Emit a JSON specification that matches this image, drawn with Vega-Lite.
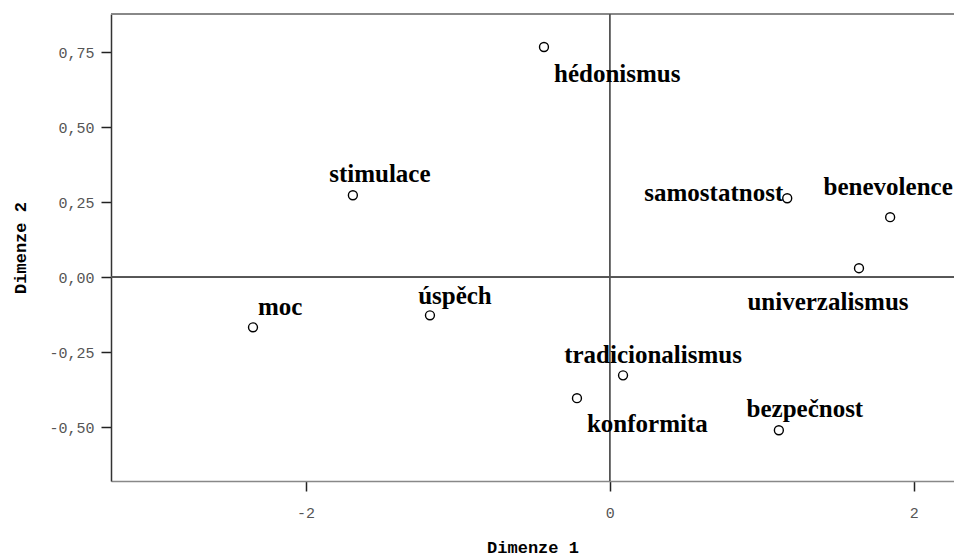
{
  "$schema": "https://vega.github.io/schema/vega-lite/v6.json",
  "width": 843,
  "height": 467,
  "autosize": {"type": "none"},
  "padding": {"left": 111, "top": 14, "right": 0, "bottom": 75},
  "background": "white",
  "config": {
    "view": {"stroke": null},
    "axis": {
      "grid": false,
      "labelFont": "Liberation Mono",
      "labelFontSize": 15,
      "labelColor": "#555555",
      "titleFont": "Liberation Mono",
      "titleFontSize": 17,
      "titleFontWeight": "bold",
      "titleColor": "black",
      "domainColor": "#333333",
      "domainWidth": 1.5,
      "tickColor": "#222222",
      "tickWidth": 1.5,
      "tickSize": 10
    }
  },
  "data": {
    "values": [
      {"name": "hédonismus", "d1": -0.432, "d2": 0.767},
      {"name": "stimulace", "d1": -1.689, "d2": 0.273},
      {"name": "samostatnost", "d1": 1.168, "d2": 0.263},
      {"name": "benevolence", "d1": 1.845, "d2": 0.2},
      {"name": "univerzalismus", "d1": 1.64, "d2": 0.03},
      {"name": "moc", "d1": -2.346, "d2": -0.167},
      {"name": "úspěch", "d1": -1.182, "d2": -0.127},
      {"name": "tradicionalismus", "d1": 0.088, "d2": -0.327},
      {"name": "konformita", "d1": -0.215, "d2": -0.403},
      {"name": "bezpečnost", "d1": 1.113, "d2": -0.51}
    ]
  },
  "encoding": {
    "x": {
      "field": "d1", "type": "quantitative",
      "scale": {"domain": [-3.28, 2.265], "nice": false, "zero": false},
      "axis": {"title": "Dimenze 1", "values": [-2, 0, 2], "labelPadding": 14, "titlePadding": 19, "domainColor": "#888888",
        "labelExpr": "replace(format(datum.value, 'd'), '\u2212', '-')"}
    },
    "y": {
      "field": "d2", "type": "quantitative",
      "scale": {"domain": [-0.679, 0.877], "nice": false, "zero": false},
      "axis": {"title": "Dimenze 2", "values": [-0.5, -0.25, 0, 0.25, 0.5, 0.75], "labelPadding": 7, "titlePadding": 19,
        "labelExpr": "replace(replace(format(datum.value, '.2f'), '.', ','), '\u2212', '-')"}
    }
  },
  "layer": [
    {"mark": {"type": "rule", "color": "#888888", "strokeWidth": 1.5}, "encoding": {"y": {"datum": 0.877}, "x": null}},
    {"mark": {"type": "rule", "color": "#555555", "strokeWidth": 1}, "encoding": {"x": {"datum": 0}, "y": null}},
    {"mark": {"type": "rule", "color": "#555555", "strokeWidth": 1}, "encoding": {"y": {"datum": 0}, "x": null}},
    {"mark": {"type": "point", "shape": "circle", "filled": false, "color": "black", "size": 80, "strokeWidth": 1.4, "opacity": 1}},
    {"transform": [{"filter": "datum.name == 'hédonismus'"}], "mark": {"type": "text", "font": "Liberation Serif", "fontWeight": "bold", "fontSize": 25, "align": "left", "baseline": "middle", "dx": 10, "dy": 27}, "encoding": {"text": {"field": "name"}}},
    {"transform": [{"filter": "datum.name == 'stimulace'"}], "mark": {"type": "text", "font": "Liberation Serif", "fontWeight": "bold", "fontSize": 25, "align": "center", "baseline": "middle", "dx": 27, "dy": -21}, "encoding": {"text": {"field": "name"}}},
    {"transform": [{"filter": "datum.name == 'samostatnost'"}], "mark": {"type": "text", "font": "Liberation Serif", "fontWeight": "bold", "fontSize": 25, "align": "right", "baseline": "middle", "dx": -4, "dy": -5}, "encoding": {"text": {"field": "name"}}},
    {"transform": [{"filter": "datum.name == 'benevolence'"}], "mark": {"type": "text", "font": "Liberation Serif", "fontWeight": "bold", "fontSize": 25, "align": "center", "baseline": "middle", "dx": -2, "dy": -30}, "encoding": {"text": {"field": "name"}}},
    {"transform": [{"filter": "datum.name == 'univerzalismus'"}], "mark": {"type": "text", "font": "Liberation Serif", "fontWeight": "bold", "fontSize": 25, "align": "center", "baseline": "middle", "dx": -31, "dy": 34}, "encoding": {"text": {"field": "name"}}},
    {"transform": [{"filter": "datum.name == 'moc'"}], "mark": {"type": "text", "font": "Liberation Serif", "fontWeight": "bold", "fontSize": 25, "align": "left", "baseline": "middle", "dx": 5, "dy": -20}, "encoding": {"text": {"field": "name"}}},
    {"transform": [{"filter": "datum.name == 'úspěch'"}], "mark": {"type": "text", "font": "Liberation Serif", "fontWeight": "bold", "fontSize": 25, "align": "center", "baseline": "middle", "dx": 25, "dy": -19}, "encoding": {"text": {"field": "name"}}},
    {"transform": [{"filter": "datum.name == 'tradicionalismus'"}], "mark": {"type": "text", "font": "Liberation Serif", "fontWeight": "bold", "fontSize": 25, "align": "center", "baseline": "middle", "dx": 30, "dy": -20}, "encoding": {"text": {"field": "name"}}},
    {"transform": [{"filter": "datum.name == 'konformita'"}], "mark": {"type": "text", "font": "Liberation Serif", "fontWeight": "bold", "fontSize": 25, "align": "left", "baseline": "middle", "dx": 10, "dy": 26}, "encoding": {"text": {"field": "name"}}},
    {"transform": [{"filter": "datum.name == 'bezpečnost'"}], "mark": {"type": "text", "font": "Liberation Serif", "fontWeight": "bold", "fontSize": 25, "align": "center", "baseline": "middle", "dx": 26, "dy": -21}, "encoding": {"text": {"field": "name"}}}
  ]
}
